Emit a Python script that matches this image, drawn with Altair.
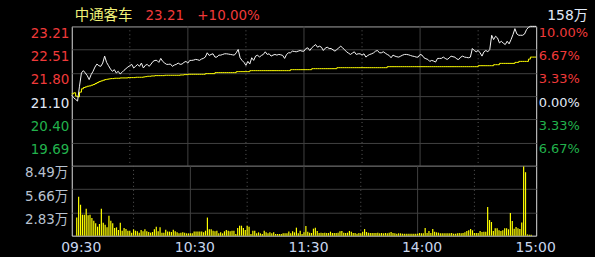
import altair as alt
import pandas as pd

# ---------------- data ----------------
stock_name = "中通客车"
prev_close = 21.10
total_volume_label = "158万"

price = [
    21.12, 21.05, 21.00, 20.95, 21.40, 21.80, 21.87, 21.80, 21.72, 21.60,
    21.75, 21.85, 21.98, 22.07, 22.02, 22.00, 22.10, 22.31, 22.12, 22.02,
    21.92, 21.85, 21.90, 21.80, 21.85, 21.77, 21.82, 21.88, 21.93, 21.98,
    22.02, 22.06, 21.95, 22.00, 22.06, 22.00, 22.10, 21.95, 22.03, 22.06,
    22.00, 22.07, 22.15, 22.18, 22.18, 22.12, 22.24, 22.15, 22.10, 22.06,
    22.06, 22.07, 22.00, 22.04, 22.06, 22.10, 22.06, 22.07, 22.12, 22.15,
    22.10, 22.18, 22.18, 22.19, 22.21, 22.20, 22.18, 22.22, 22.24, 22.28,
    22.41, 22.33, 22.36, 22.38, 22.28, 22.28, 22.34, 22.34, 22.36, 22.38,
    22.38, 22.37, 22.36, 22.35, 22.34, 22.41, 22.51, 22.26, 22.18, 22.12,
    22.03, 22.15, 22.07, 22.26, 22.18, 22.31, 22.34, 22.28, 22.33, 22.36,
    22.44, 22.36, 22.38, 22.31, 22.34, 22.36, 22.34, 22.36, 22.35, 22.33,
    22.24, 22.36, 22.41, 22.41, 22.46, 22.45, 22.44, 22.46, 22.48, 22.46,
    22.46, 22.54, 22.56, 22.48, 22.56, 22.61, 22.66, 22.58, 22.61, 22.58,
    22.48, 22.55, 22.58, 22.54, 22.54, 22.50, 22.46, 22.51, 22.56, 22.61,
    22.56, 22.50, 22.44, 22.40, 22.36, 22.40, 22.44, 22.36, 22.38, 22.38,
    22.34, 22.38, 22.28, 22.33, 22.36, 22.38, 22.41, 22.46, 22.48, 22.41,
    22.41, 22.44, 22.40, 22.36, 22.33, 22.26, 22.34, 22.31, 22.29, 22.28,
    22.31, 22.34, 22.36, 22.36, 22.35, 22.33, 22.31, 22.30, 22.28, 22.28,
    22.36, 22.34, 22.26, 22.23, 22.21, 22.15, 22.18, 22.16, 22.13, 22.24,
    22.24, 22.24, 22.28, 22.24, 22.21, 22.25, 22.31, 22.29, 22.28, 22.22,
    22.21, 22.28, 22.31, 22.28, 22.27, 22.26, 22.28, 22.54, 22.48, 22.44,
    22.48, 22.41, 22.31, 22.44, 22.48, 22.44, 22.51, 22.94, 22.81, 22.91,
    22.86, 22.71, 22.76, 22.70, 22.66, 22.76, 22.68, 22.81, 22.96, 23.14,
    22.98, 22.94, 22.94, 22.94, 22.98, 23.11, 23.18, 23.21, 23.21, 23.21,
    23.21,
]

avg_price = [
    21.17, 21.20, 21.10, 21.08, 21.22, 21.32, 21.36, 21.38, 21.40, 21.41,
    21.43, 21.45, 21.48, 21.51, 21.54, 21.56, 21.58, 21.60, 21.61, 21.62,
    21.63, 21.63, 21.64, 21.64, 21.64, 21.65, 21.65, 21.65, 21.65, 21.66,
    21.66, 21.66, 21.66, 21.67, 21.67, 21.67, 21.67, 21.68, 21.69, 21.70,
    21.70, 21.71, 21.71, 21.72, 21.72, 21.72, 21.72, 21.72, 21.73, 21.73,
    21.73, 21.73, 21.73, 21.73, 21.73, 21.73, 21.74, 21.74, 21.75, 21.75,
    21.76, 21.76, 21.76, 21.76, 21.76, 21.76, 21.76, 21.76, 21.76, 21.78,
    21.78, 21.78, 21.78, 21.78, 21.81, 21.81, 21.81, 21.81, 21.81, 21.81,
    21.81, 21.81, 21.81, 21.81, 21.81, 21.84, 21.84, 21.84, 21.84, 21.84,
    21.84, 21.84, 21.87, 21.87, 21.87, 21.87, 21.87, 21.87, 21.87, 21.87,
    21.87, 21.87, 21.87, 21.87, 21.87, 21.87, 21.87, 21.87, 21.87, 21.87,
    21.87, 21.87, 21.87, 21.90, 21.90, 21.90, 21.90, 21.90, 21.90, 21.90,
    21.90, 21.90, 21.90, 21.90, 21.93, 21.93, 21.93, 21.93, 21.93, 21.93,
    21.93, 21.93, 21.93, 21.93, 21.93, 21.93, 21.93, 21.96, 21.96, 21.96,
    21.96, 21.96, 21.96, 21.96, 21.96, 21.96, 21.96, 21.96, 21.96, 21.96,
    21.96, 21.96, 21.96, 21.96, 21.96, 21.96, 21.96, 21.96, 21.96, 21.96,
    21.96, 21.96, 21.96, 21.99, 21.99, 21.99, 21.99, 21.99, 21.99, 21.99,
    21.99, 21.99, 21.99, 21.99, 21.99, 21.99, 21.99, 21.99, 21.99, 21.99,
    21.99, 21.99, 21.99, 21.99, 21.99, 21.99, 21.99, 21.99, 21.99, 21.99,
    21.99, 21.99, 21.99, 21.99, 21.99, 21.99, 21.99, 21.99, 21.99, 21.99,
    21.99, 21.99, 21.99, 21.99, 21.99, 21.99, 21.99, 21.99, 21.99, 21.99,
    22.02, 22.02, 22.02, 22.02, 22.02, 22.02, 22.02, 22.02, 22.05, 22.05,
    22.05, 22.09, 22.09, 22.09, 22.09, 22.09, 22.09, 22.09, 22.09, 22.12,
    22.12, 22.15, 22.15, 22.15, 22.15, 22.15, 22.22, 22.28, 22.28, 22.28,
    22.28,
]

volume_wan = [
    2.20, 4.73, 3.76, 2.55, 2.55, 3.27, 2.47, 2.55, 2.14, 1.82,
    1.50, 1.09, 1.42, 3.27, 1.58, 1.33, 1.01, 2.43, 1.82, 1.50,
    0.93, 1.01, 0.69, 1.58, 0.60, 0.93, 0.80, 0.60, 0.60, 0.36,
    0.77, 0.60, 0.53, 0.36, 0.69, 0.53, 0.77, 0.53, 0.44, 0.36,
    0.44, 0.77, 1.09, 0.53, 1.01, 0.36, 0.36, 0.73, 0.49, 0.49,
    0.44, 0.73, 0.53, 0.40, 0.28, 0.36, 0.40, 0.36, 0.28, 0.28,
    0.28, 0.28, 0.49, 0.49, 0.49, 0.49, 0.49, 0.40, 0.60, 2.20,
    0.77, 0.77, 0.60, 0.53, 0.60, 0.28, 0.40, 0.28, 0.53, 0.69,
    0.60, 0.53, 0.60, 0.60, 0.20, 0.93, 1.21, 1.21, 0.93, 0.69,
    1.21, 1.09, 0.20, 0.60, 0.60, 0.28, 0.40, 0.28, 0.20, 0.60,
    0.40, 0.28, 0.40, 0.28, 0.40, 0.20, 0.20, 0.20, 0.20, 0.28,
    0.28, 0.28, 0.49, 0.28, 0.53, 0.40, 0.97, 0.28, 0.60, 0.20,
    0.40, 1.17, 0.48, 0.36, 0.32, 0.85, 0.97, 0.57, 0.32, 0.36,
    0.32, 0.36, 0.32, 0.32, 0.48, 0.32, 0.32, 0.32, 0.36, 0.52,
    0.57, 0.36, 0.32, 0.36, 0.57, 0.48, 0.32, 0.32, 0.24, 0.32,
    0.28, 0.48, 0.80, 0.44, 0.36, 0.32, 0.32, 0.32, 0.32, 0.36,
    0.28, 0.32, 0.28, 0.32, 0.28, 0.36, 0.44, 0.32, 0.28, 0.24,
    0.28, 0.28, 0.24, 0.24, 0.24, 0.24, 0.24, 0.24, 0.24, 0.24,
    0.24, 0.32, 0.28, 0.28, 0.93, 0.32, 0.57, 0.32, 0.80, 0.48,
    0.40, 0.36, 0.28, 0.28, 0.28, 0.28, 0.28, 0.28, 0.32, 0.24,
    0.24, 0.28, 0.32, 0.28, 0.32, 0.40, 0.57, 0.65, 0.80, 0.65,
    0.32, 0.32, 0.32, 0.57, 0.44, 0.48, 0.48, 3.48, 1.90, 1.66,
    0.57, 0.90, 0.90, 0.65, 0.57, 0.65, 0.90, 0.90, 0.77, 2.75,
    1.78, 0.85, 1.05, 0.90, 0.80, 1.60, 8.41, 7.72, 0.15, 0.10,
    0.10,
]

pct_ticks = [10.00, 6.67, 3.33, 0.00, -3.33, -6.67]
vol_ticks = [2.83, 5.66, 8.49]
time_ticks = [0, 60, 120, 180, 240]
time_labels = ["09:30", "10:30", "11:30", "14:00", "15:00"]
solid_grid = [60, 120, 180]
dotted_grid = [30, 90, 150, 210]

# ---------------- styling ----------------
RED = "#F03A3A"
GREEN = "#22B24C"
LIGHT = "#E2EAF8"
GRIDC = "#404040"
DOTC = "#5A5A5A"
YELLOW = "#FFFF00"
VOLLAB = "#B8C2D0"
TIMELAB = "#C8D6EE"
NAMEC = "#F2F27A"
NUMFONT = "DejaVu Sans"
CJKFONT = "Noto Sans CJK SC"

W, H1, H2 = 466, 140, 70

n = len(price)
df = pd.DataFrame({"i": list(range(n)), "price": price, "avg": avg_price, "vol": volume_wan})
price_ticks = [prev_close * (1 + p / 100) for p in pct_ticks]
lo, hi = prev_close * 0.9, prev_close * 1.1

xs = alt.Scale(domain=[0, n - 1], nice=False, zero=False)
ys = alt.Scale(domain=[lo, hi], nice=False, zero=False)
vs = alt.Scale(domain=[0, vol_ticks[-1]], nice=False, zero=True)

color_cond = {
    "condition": [
        {"test": f"datum.value > {prev_close + 0.005}", "value": RED},
        {"test": f"datum.value < {prev_close - 0.005}", "value": GREEN},
    ],
    "value": LIGHT,
}

left_axis = alt.Axis(
    orient="left", values=price_ticks, format=".2f", labelColor=color_cond,
    labelFont=NUMFONT, labelFontSize=13.5, labelPadding=3, labelBaseline="top",
    labelFlush=False, labelOverlap=False, grid=True,
    gridColor=GRIDC, gridWidth=1, domain=False, ticks=False, title=None,
)
right_axis = alt.Axis(
    orient="right", values=price_ticks,
    labelExpr=f"format(abs(datum.value / {prev_close} - 1) * 100, '.2f') + '%'",
    labelColor=color_cond, labelFont=NUMFONT, labelFontSize=13, labelPadding=2,
    labelBaseline="top", labelFlush=False, labelOverlap=False,
    grid=False, domain=False, ticks=False, title=None,
)
time_expr = " : ".join(
    f"datum.value == {t} ? '{lab}'" for t, lab in zip(time_ticks, time_labels)
) + " : ''"
x_axis = alt.Axis(
    values=time_ticks, labelExpr=time_expr, grid=False, domain=False, ticks=False,
    labelFont=NUMFONT, labelFontSize=14, labelColor=TIMELAB, labelFlush=False,
    labelOverlap=False, labelOffset=4, labelPadding=5, title=None,
)
vol_axis = alt.Axis(
    orient="left", values=vol_ticks, labelExpr="format(datum.value, '.2f') + '万'",
    labelFont=f"{NUMFONT}, {CJKFONT}", labelFontSize=13.5, labelColor=VOLLAB,
    labelPadding=4, labelBaseline="top", labelFlush=False, labelOverlap=False,
    grid=True, gridColor=GRIDC, gridWidth=1, domain=False, ticks=False, title=None,
)

solid_df = pd.DataFrame({"t": solid_grid})
dotted_df = pd.DataFrame({"t": dotted_grid})


def vgrid(xaxis):
    s = alt.Chart(solid_df).mark_rule(color=GRIDC, strokeWidth=1).encode(
        x=alt.X("t:Q", scale=xs, axis=xaxis))
    d = alt.Chart(dotted_df).mark_rule(color=DOTC, strokeWidth=1, strokeDash=[1, 3]).encode(
        x=alt.X("t:Q", scale=xs, axis=xaxis))
    return [s, d]


base = alt.Chart(df)
avg_line = base.mark_line(color=YELLOW, strokeWidth=1, interpolate="step-after").encode(
    x=alt.X("i:Q", scale=xs, axis=None),
    y=alt.Y("avg:Q", scale=ys, axis=right_axis),
)
price_line = base.mark_line(color="#F4F4F4", strokeWidth=1).encode(
    x=alt.X("i:Q", scale=xs, axis=None),
    y=alt.Y("price:Q", scale=ys, axis=left_axis),
)

last_price = price[-1]
change_pct = (last_price / prev_close - 1) * 100
one = pd.DataFrame({"k": [0]})
hdr_name = alt.Chart(one).mark_text(
    align="left", baseline="alphabetic", font=CJKFONT, fontSize=14.5, color=NAMEC
).encode(x=alt.value(3), y=alt.value(-6), text=alt.value(stock_name))
hdr_price = alt.Chart(one).mark_text(
    align="left", baseline="alphabetic", font=NUMFONT, fontSize=13.5, color=RED
).encode(x=alt.value(74), y=alt.value(-6), text=alt.value(f"{last_price:.2f}"))
hdr_pct = alt.Chart(one).mark_text(
    align="left", baseline="alphabetic", font=NUMFONT, fontSize=13.5, color=RED
).encode(x=alt.value(126), y=alt.value(-6), text=alt.value(f"{change_pct:+.2f}%"))
hdr_vol = alt.Chart(one).mark_text(
    align="left", baseline="alphabetic", font=f"{NUMFONT}, {CJKFONT}", fontSize=14, color=LIGHT
).encode(x=alt.value(477), y=alt.value(-6.5), text=alt.value(total_volume_label))

price_panel = alt.layer(
    *vgrid(None), avg_line, price_line, hdr_name, hdr_price, hdr_pct, hdr_vol
).resolve_axis(y="independent").properties(width=W, height=H1)

bars = base.mark_bar(color=YELLOW, size=1.2).encode(
    x=alt.X("i:Q", scale=xs, axis=x_axis),
    y=alt.Y("vol:Q", scale=vs, axis=vol_axis),
)
vol_panel = alt.layer(*vgrid(x_axis), bars).properties(width=W, height=H2)

chart = alt.vconcat(price_panel, vol_panel, spacing=0, bounds="flush").configure_view(
    stroke=GRIDC, strokeWidth=1
).configure(background="#000000", padding={"left": 23, "top": 7, "right": 6, "bottom": 4})

chart.save("out.html", embed_options={"renderer": "svg", "actions": False})
